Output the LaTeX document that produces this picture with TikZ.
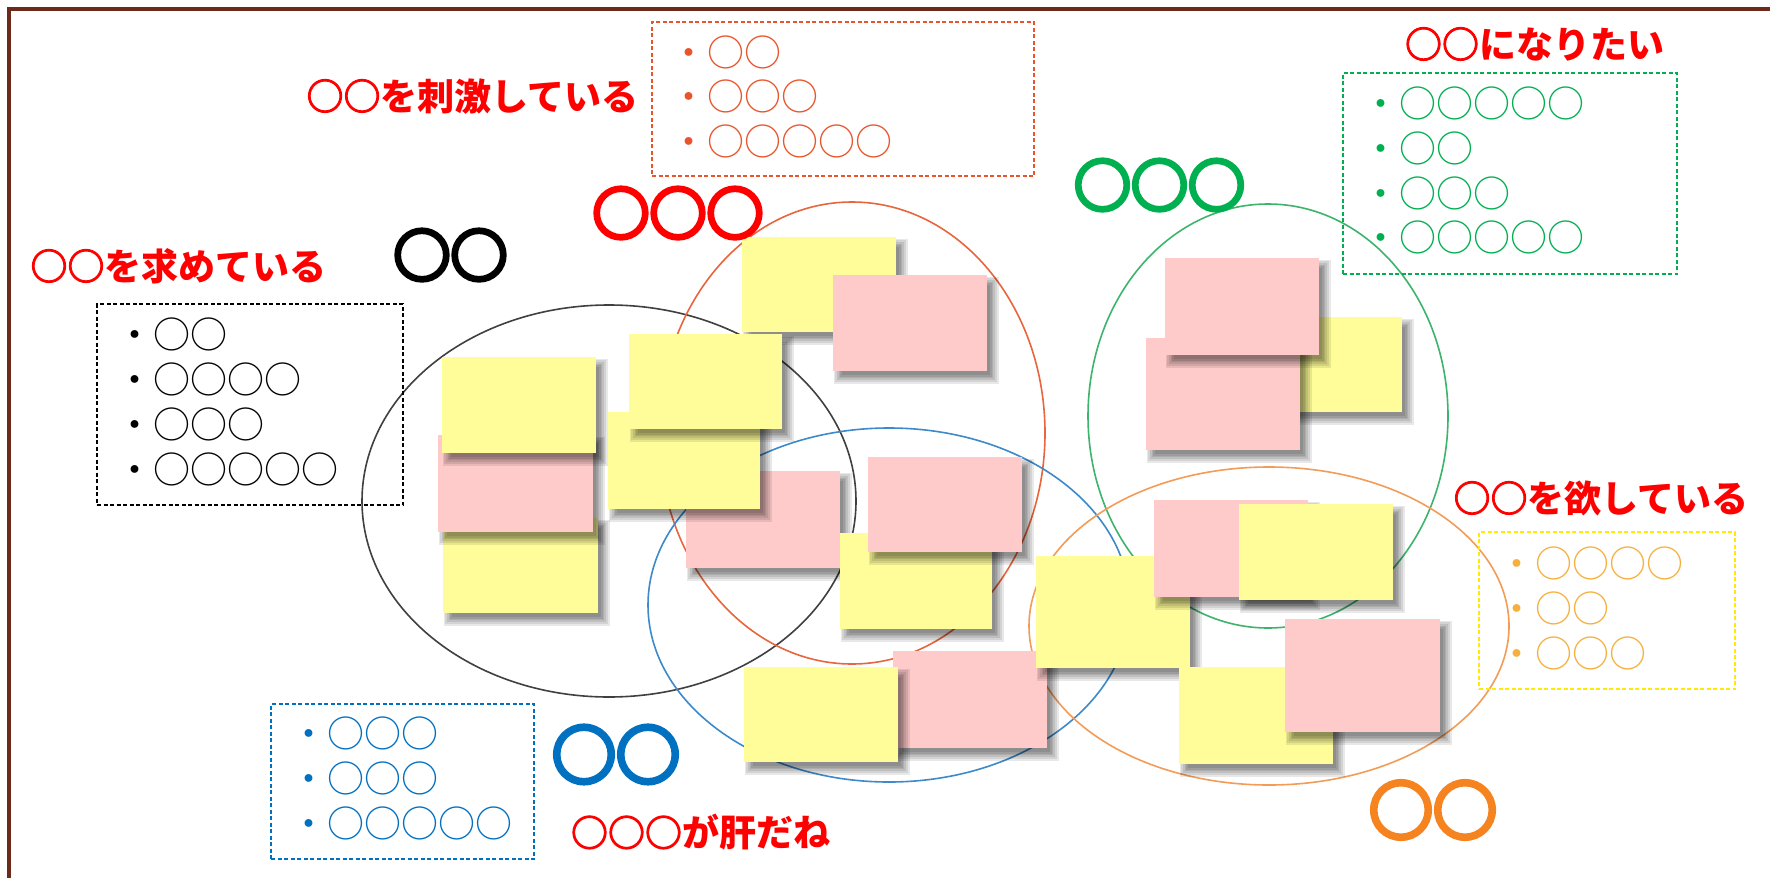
\documentclass[tikz,border=0pt]{standalone}
\usepackage{fontspec}
\newfontfamily\jp{Noto Sans CJK JP}
\newfontfamily\jpfat[FakeBold=7]{Noto Sans CJK JP}
\newfontfamily\jpmed[FakeBold=2.5]{Noto Sans CJK JP}
\newcommand\hc{{\jpmed ○}}
\definecolor{framebrown}{HTML}{6B2A1A}
\definecolor{hred}{HTML}{FF0000}
\definecolor{ered}{HTML}{E8663D}
\definecolor{bred}{HTML}{E9542B}
\definecolor{eblack}{HTML}{404040}
\definecolor{eblue}{HTML}{3C8ACB}
\definecolor{bblue}{HTML}{0070C0}
\definecolor{egreen}{HTML}{3DB46C}
\definecolor{bgreen}{HTML}{00B050}
\definecolor{eorange}{HTML}{F39C57}
\definecolor{borange}{HTML}{F5831F}
\definecolor{ltorange}{HTML}{F6B03E}
\definecolor{byellow}{HTML}{FFEA00}
\definecolor{noteY}{HTML}{FFFD99}
\definecolor{noteP}{HTML}{FFCACA}
\tikzset{
  heading/.style={anchor=base, inner sep=0pt, text=hred, font=\jp\bfseries\fontsize{37}{40}\selectfont},
  bigmark/.style={anchor=base, inner sep=0pt, font=\jpfat\bfseries\fontsize{57}{60}\selectfont},
  bigmarkL/.style={anchor=base, inner sep=0pt, font=\jpfat\bfseries\fontsize{64}{66}\selectfont},
  listline/.style={anchor=base west, inner sep=0pt, font=\jp\fontsize{37}{45}\selectfont},
  listbox/.style={draw, dash pattern=on 4pt off 2.5pt, line width=1.4pt, inner sep=0pt},
  ring/.style={line width=1.6pt},
  note/.style={inner sep=0pt, draw=none},
  shadowlayer/.style={fill=black, opacity=0.09}
}
\newcommand\stickynote[6]{%
  \foreach \k in {0,...,5}{%
    \fill[shadowlayer] ({#2+6-(\k*1.7-3)},{#3+7-(\k*1.7-3)}) rectangle ({#2+#4+6+(\k*1.7-3)},{#3+#5+7+(\k*1.7-3)});
  }
  \node[note, fill=#6, minimum width=#4, minimum height=#5] (#1) at ({#2+#4/2},{#3+#5/2}) {};
}
\begin{document}
\begin{tikzpicture}[x=1pt,y=-1pt]
\useasboundingbox (0,0) rectangle (1770,878);
\fill[white] (0,0) rectangle (1770,878);
% frame
\draw[framebrown, line width=3.5pt] (9,880) -- (9,9) -- (1772,9);

% ellipses
\draw[ring, eblack] (609,501) ellipse [x radius=247, y radius=196];
\draw[ring, ered] (852,433) ellipse [x radius=193, y radius=231];
\draw[ring, eblue] (889,605) ellipse [x radius=241, y radius=177];
\draw[ring, egreen] (1268,416) ellipse [x radius=180, y radius=212];
\draw[ring, eorange] (1269,626) ellipse [x radius=240, y radius=159];

% sticky notes
\stickynote{y2}{443}{518}{155}{95}{noteY}
\stickynote{p1}{438}{435}{155}{97}{noteP}
\stickynote{y1}{442}{357}{154}{96}{noteY}
\stickynote{y8}{742}{237}{154}{95}{noteY}
\stickynote{p5}{833}{275}{154}{96}{noteP}
\stickynote{p2}{686}{471}{154}{97}{noteP}
\stickynote{y3}{608}{412}{152}{97}{noteY}
\stickynote{y4}{629}{334}{153}{95}{noteY}
\stickynote{y5}{840}{533}{152}{96}{noteY}
\stickynote{p3}{868}{457}{154}{95}{noteP}
\stickynote{p4}{893}{651}{154}{97}{noteP}
\stickynote{y6}{744}{667}{154}{95}{noteY}
\stickynote{y7}{1036}{556}{154}{112}{noteY}
\stickynote{p6}{1154}{500}{154}{97}{noteP}
\stickynote{y9}{1239}{504}{154}{96}{noteY}
\stickynote{y10}{1179}{667}{154}{97}{noteY}
\stickynote{p7}{1285}{619}{155}{113}{noteP}
\stickynote{g3}{1248}{317}{154}{95}{noteY}
\stickynote{g2}{1146}{338}{154}{112}{noteP}
\stickynote{g1}{1165}{258}{154}{97}{noteP}

% dashed boxes
\node[listbox, draw=bred, minimum width=382, minimum height=154] (boxR) at (843,99) {};
\node[listbox, draw=black, minimum width=306, minimum height=201] (boxK) at (250,404.5) {};
\node[listbox, draw=bgreen, minimum width=334, minimum height=201] (boxG) at (1510,173.5) {};
\node[listbox, draw=byellow, minimum width=256, minimum height=157] (boxY) at (1607,610.5) {};
\node[listbox, draw=bblue, minimum width=263, minimum height=155] (boxB) at (402.5,781.5) {};

% list lines
\node[listline, text=bred] (r1) at (670.5,66) {・○○};
\node[listline, text=bred] (r2) at (670.5,110) {・○○○};
\node[listline, text=bred] (r3) at (670.5,155) {・○○○○○};

\node[listline, text=black] (k1) at (116.5,348) {・○○};
\node[listline, text=black] (k2) at (116.5,393) {・○○○○};
\node[listline, text=black] (k3) at (116.5,438) {・○○○};
\node[listline, text=black] (k4) at (116.5,483) {・○○○○○};

\node[listline, text=bgreen] (g1t) at (1362.5,117) {・○○○○○};
\node[listline, text=bgreen] (g2t) at (1362.5,162) {・○○};
\node[listline, text=bgreen] (g3t) at (1362.5,207) {・○○○};
\node[listline, text=bgreen] (g4t) at (1362.5,251) {・○○○○○};

\node[listline, text=ltorange] (o1) at (1498.5,577) {・○○○○};
\node[listline, text=ltorange] (o2) at (1498.5,622) {・○○};
\node[listline, text=ltorange] (o3) at (1498.5,667) {・○○○};

\node[listline, text=bblue] (b1) at (290.5,747) {・○○○};
\node[listline, text=bblue] (b2) at (290.5,792) {・○○○};
\node[listline, text=bblue] (b3) at (290.5,837) {・○○○○○};

% headings
\node[heading] (h1) at (472.5,110) {\hc\hc を刺激している};
\node[heading] (h2) at (178.5,280) {\hc\hc を求めている};
\node[heading] (h3) at (1534.5,58) {\hc\hc になりたい};
\node[heading] (h4) at (1601,512) {\hc\hc を欲している};
\node[heading] (h5) at (700.5,846.5) {\hc\hc\hc が肝だね};

% big group marks
\node[bigmark, text=black] (mk) at (450.5,276.7) {○○};
\node[bigmark, text=hred] (mr) at (678,234.7) {○○○};
\node[bigmark, text=bgreen] (mg) at (1159.5,206.7) {○○○};
\node[bigmarkL, text=bblue] (mb) at (616,778.8) {○○};
\node[bigmarkL, text=borange] (mo) at (1433,834.3) {○○};
\end{tikzpicture}
\end{document}
